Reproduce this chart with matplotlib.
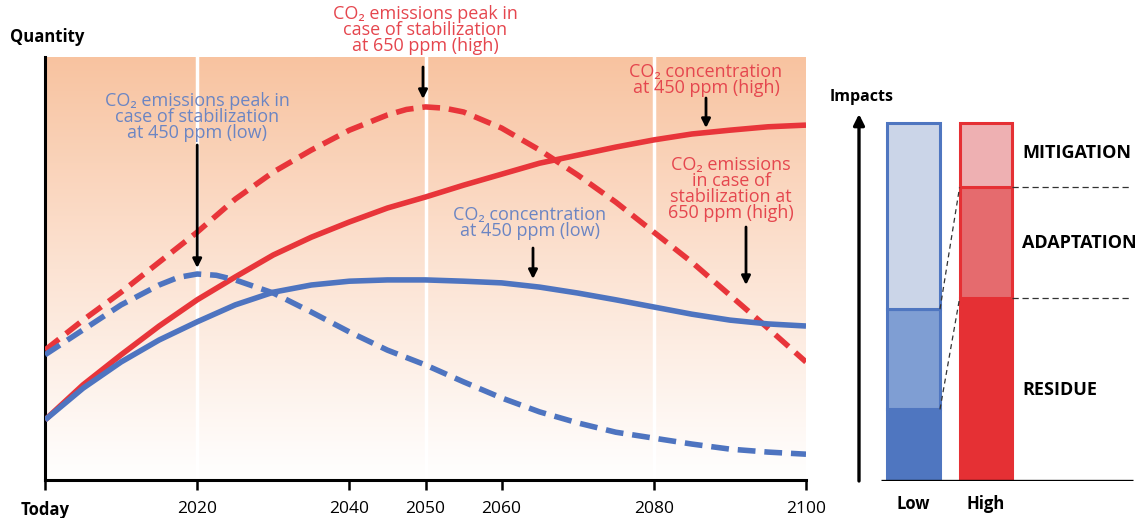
import numpy as np
import matplotlib
matplotlib.use("Agg")
import matplotlib.pyplot as plt
from matplotlib.colors import LinearSegmentedColormap

plt.rcParams['font.family'] = ['Open Sans', 'DejaVu Sans']

# ---------------- data ----------------
years = list(range(2000, 2101, 5))
conc_high = [14.2, 22.5, 29.6, 36.4, 42.6, 48.0, 53.2, 57.4, 61.0, 64.3, 66.9,
             69.7, 72.3, 74.9, 76.8, 78.7, 80.4, 81.8, 82.7, 83.5, 83.9]
conc_low = [14.2, 21.7, 27.9, 33.1, 37.4, 41.4, 44.4, 46.1, 47.0, 47.3, 47.3,
            47.0, 46.6, 45.6, 44.2, 42.6, 40.9, 39.2, 37.8, 36.9, 36.4]

years_eh = [2000, 2005, 2010, 2015, 2020, 2025, 2030, 2035, 2040, 2045, 2047.5,
            2050, 2052.5, 2055, 2060, 2065, 2070, 2075, 2080, 2085, 2090, 2095, 2100]
emis_high = [30.7, 37.8, 44.4, 51.5, 58.6, 66.4, 72.8, 78.0, 82.7, 86.3, 87.6,
             88.2, 87.9, 87.0, 83.2, 78.0, 72.1, 65.7, 58.6, 51.5, 43.7, 35.9, 27.9]

years_el = [2000, 2005, 2010, 2015, 2017.5, 2020, 2022.5, 2025, 2030, 2035, 2040,
            2045, 2050, 2055, 2060, 2065, 2070, 2075, 2080, 2085, 2090, 2095, 2100]
emis_low = [29.6, 35.5, 41.4, 46.1, 47.9, 48.7, 48.4, 47.3, 44.2, 39.7, 35.0,
            30.7, 27.2, 23.2, 19.4, 16.1, 13.5, 11.3, 9.9, 8.5, 7.3, 6.6, 6.1]

tick_years = [2000, 2020, 2040, 2050, 2060, 2080, 2100]
tick_labels = ['Today', '2020', '2040', '2050', '2060', '2080', '2100']
guide_years = [2020, 2050, 2080]

impact_cats = ['Low', 'High']
impact_parts = ['RESIDUE', 'ADAPTATION', 'MITIGATION']
impact_low = [20, 28, 52]
impact_high = [51, 31, 18]

RED = '#E8353A'
BLUE = '#4E74C0'
RED_TXT = '#E5464E'
BLUE_TXT = '#6B85C3'

fig = plt.figure(figsize=(11.41, 5.18), dpi=100)
W, H = 1141, 518

# ---------------- left panel ----------------
ax = fig.add_axes([45 / W, (H - 480) / H, 761 / W, 423 / H])
ax.set_xlim(2000, 2100)
ax.set_ylim(0, 100)

cmap = LinearSegmentedColormap.from_list('bg', ['#FFFFFF', '#FCE3D3', '#F8C3A0'])
grad = np.linspace(0, 1, 256).reshape(-1, 1)
ax.imshow(grad, aspect='auto', cmap=cmap, origin='lower',
          extent=[2000, 2100, 0, 100], zorder=0)
for gy in guide_years:
    ax.axvline(gy, color='white', lw=2.5, zorder=1)

lw = 4.0
ax.plot(years, conc_high, color=RED, lw=lw, solid_capstyle='butt',
        solid_joinstyle='round', zorder=3)
ax.plot(years_eh, emis_high, color=RED, lw=lw, ls=(0, (3.2, 1.6)),
        dash_capstyle='butt', zorder=3)
ax.plot(years, conc_low, color=BLUE, lw=lw, solid_capstyle='butt',
        solid_joinstyle='round', zorder=4)
ax.plot(years_el, emis_low, color=BLUE, lw=lw, ls=(0, (3.2, 1.6)),
        dash_capstyle='butt', zorder=4)

for s in ['top', 'right']:
    ax.spines[s].set_visible(False)
for s in ['left', 'bottom']:
    ax.spines[s].set_linewidth(2.2)
ax.set_yticks([])
ax.set_xticks(tick_years)
ax.set_xticklabels(tick_labels, fontsize=12.5)
ax.get_xticklabels()[0].set_fontweight('bold')
ax.get_xticklabels()[0].set_fontsize(12)
ax.tick_params(axis='x', direction='out', length=7, width=1.8, pad=8)

ax.text(-35 / 761, 1.0 + 20 / 423, 'Quantity', transform=ax.transAxes,
        fontsize=12, fontweight='bold', ha='left', va='center')

def px2y(py):
    return (480 - py) / 4.23

def px2x(px):
    return 2000 + (px - 45) / 7.61

arrowkw = dict(arrowstyle='-|>', color='black', lw=2.0, mutation_scale=13,
               shrinkA=0, shrinkB=0)

def label(txt, x, y, color):
    ax.text(x, y, txt, color=color, fontsize=13, ha='center', va='center',
            linespacing=0.86, zorder=6, clip_on=False)

def arrow(x, y0, y1):
    ax.annotate('', xy=(x, y1), xytext=(x, y0), arrowprops=arrowkw,
                annotation_clip=False, zorder=6)

label('CO\u2082 emissions peak in\ncase of stabilization\nat 450 ppm (low)',
      2020, px2y(117), BLUE_TXT)
arrow(2020, px2y(145), px2y(268))

label('CO\u2082 emissions peak in\ncase of stabilization\nat 650 ppm (high)',
      px2x(425), px2y(30), RED_TXT)
arrow(px2x(423), px2y(67), px2y(99))

label('CO\u2082 concentration\nat 450 ppm (low)', px2x(530), px2y(223), BLUE_TXT)
arrow(px2x(533), px2y(248), px2y(279))

label('CO\u2082 concentration\nat 450 ppm (high)', px2x(706), px2y(80), RED_TXT)
arrow(px2x(706), px2y(98), px2y(128))

label('CO\u2082 emissions\nin case of\nstabilization at\n650 ppm (high)',
      px2x(731), px2y(189), RED_TXT)
arrow(px2x(746), px2y(227), px2y(285))

# ---------------- right panel ----------------
ax2 = fig.add_axes([830 / W, (H - 481) / H, 311 / W, 421 / H])
ax2.set_xlim(-1.152, 3.138)
ax2.set_ylim(0, 117.6)
ax2.axis('off')

bw = 0.73
low_cols = ['#4F76C0', '#7F9ED3', '#CBD5E8']
high_cols = ['#E53034', '#E56B6E', '#EEB0B2']
for xi, vals, cols, edge in [(0, impact_low, low_cols, '#4F76C0'),
                             (1, impact_high, high_cols, '#E53034')]:
    bottom = 0
    for v, c in zip(vals, cols):
        ax2.bar(xi, v, bw, bottom=bottom, color=c, edgecolor=edge, lw=2.2, zorder=2)
        bottom += v

cl = np.cumsum(impact_low)
ch = np.cumsum(impact_high)
for k in range(2):
    ax2.plot([bw / 2, 1 - bw / 2], [cl[k], ch[k]], color='#333333', lw=0.9,
             ls=(0, (4, 3)), zorder=3)
    ax2.plot([1 + bw / 2, 3.0], [ch[k], ch[k]], color='#333333', lw=0.9,
             ls=(0, (5, 3)), zorder=3)

ax2.plot([-0.448, 3.028], [0, 0], color='black', lw=2.4, zorder=4,
         solid_capstyle='butt')
ax2.annotate('', xy=(-0.752, 102.5), xytext=(-0.752, 0),
             arrowprops=dict(arrowstyle='-|>', color='black', lw=2.4,
                             mutation_scale=16, shrinkA=0, shrinkB=0))

part_y = [25.4, 66.5, 91.6]
for name, yy in zip(impact_parts, part_y):
    ax2.text(1.497, yy, name, fontsize=13, fontweight='bold', ha='left', va='center')
for xi, name in enumerate(impact_cats):
    ax2.text(xi, -6.4, name, fontsize=12, fontweight='bold', ha='center',
             va='center', clip_on=False)
ax2.text(-1.152, 107.3, 'Impacts', fontsize=11.5, fontweight='bold', ha='left',
         va='center')

fig.savefig('out.png', dpi=100)
